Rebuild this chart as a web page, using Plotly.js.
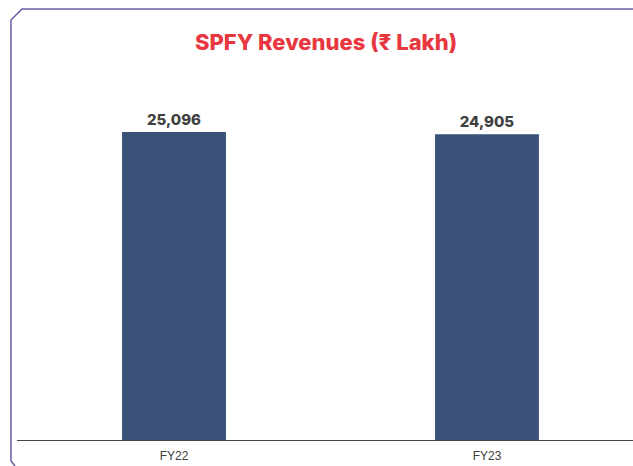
<!DOCTYPE html>
<html>
<head>
<meta charset="utf-8">
<script src="https://cdn.plot.ly/plotly-3.0.1.min.js"></script>
<style>
html,body{margin:0;padding:0;background:#fff;}
#chart{width:633px;height:466px;}
</style>
</head>
<body>
<div id="chart"></div>
<script>
var categories = ["FY22", "FY23"];
var revenues = [25096, 24905];
var labels = ["25,096", "24,905"];

var trace = {
  type: "bar",
  x: categories,
  y: revenues,
  text: labels,
  textposition: "outside",
  cliponaxis: false,
  textfont: {family: "Inter, 'Noto Sans', sans-serif", size: 15, color: "#404040", weight: 800},
  marker: {color: "#3a5278"},
  width: 0.332,
  hoverinfo: "none"
};

var W = 616, H = 380, L = 17, T = 60;
function px(x){ return (x - L) / W; }
function py(y){ return (T + H - y) / H; }

var layout = {
  width: 633,
  height: 466,
  margin: {l: L, r: 0, t: T, b: 466 - T - H},
  paper_bgcolor: "#ffffff",
  plot_bgcolor: "#ffffff",
  showlegend: false,
  title: {
    text: "SPFY Revenues (₹ Lakh)",
    font: {family: "Inter, 'Noto Sans', sans-serif", size: 22, color: "#e8373f", weight: 800},
    x: 326 / 633,
    xanchor: "center",
    y: 1 - 42 / 466,
    yanchor: "middle"
  },
  xaxis: {
    type: "category",
    range: [-0.5016, 1.4665],
    showline: true,
    linecolor: "#444444",
    linewidth: 1.3,
    showgrid: false,
    zeroline: false,
    ticks: "",
    ticklabelstandoff: 4,
    tickfont: {family: "'Liberation Sans', Arial, sans-serif", size: 12, color: "#404040"},
    fixedrange: true
  },
  yaxis: {
    range: [0, 30962],
    visible: false,
    showgrid: false,
    zeroline: false,
    fixedrange: true
  },
  shapes: [{
    type: "path",
    xref: "paper",
    yref: "paper",
    path: "M " + px(15) + "," + py(466) +
          " L " + px(11) + "," + py(461) +
          " L " + px(11) + "," + py(20) +
          " L " + px(22) + "," + py(9) +
          " L " + px(640) + "," + py(9),
    line: {color: "#6e5aa8", width: 1.5}
  }]
};

Plotly.newPlot("chart", [trace], layout, {displayModeBar: false, staticPlot: true});
</script>
</body>
</html>
